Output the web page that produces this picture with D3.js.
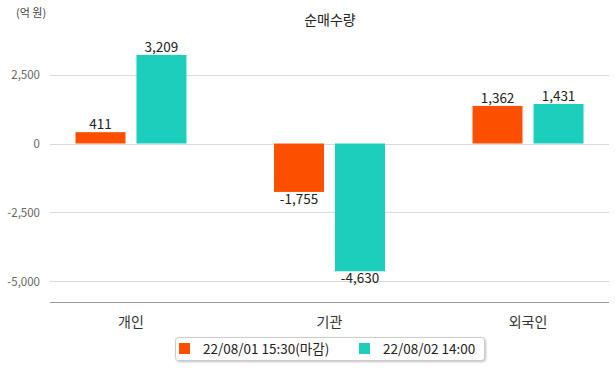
<!DOCTYPE html>
<html>
<head>
<meta charset="utf-8">
<script src="https://cdn.jsdelivr.net/npm/d3@7"></script>
<style>
  body { margin: 0; background: #fff; }
  text { font-family: "Noto Sans CJK KR", "Noto Sans", sans-serif; }
</style>
</head>
<body>
<svg id="chart" width="615" height="368"></svg>
<script>
var categories = ['개인', '기관', '외국인'];
var seriesNames = ['22/08/01 15:30(마감)', '22/08/02 14:00'];
var seriesColors = ['#fc5000', '#1dcebd'];
var closeValues = [411, -1755, 1362];
var midValues = [3209, -4630, 1431];
var yTicks = [-5000, -2500, 0, 2500];

var fmt = function(v) { return d3.format(',')(v).replace('\u2212', '-'); };

var svg = d3.select('#chart');
var left = 50, right = 609;

var x = d3.scalePoint().domain(categories).range([left, right]).padding(0.408);
// zero at 143.5, 2500 per 69px
var y = d3.scaleLinear().domain([-5743, 4620]).range([302, 16]);

// gridlines
svg.append('g').selectAll('line').data(yTicks).enter().append('line')
  .attr('x1', left).attr('x2', right)
  .attr('y1', function(d) { return Math.round(y(d)) + 0.5; })
  .attr('y2', function(d) { return Math.round(y(d)) + 0.5; })
  .attr('stroke', '#d9d9d9');

// y tick labels
svg.append('g').selectAll('text').data(yTicks).enter().append('text')
  .attr('x', 40).attr('y', function(d) { return y(d); })
  .attr('dy', '.35em')
  .attr('text-anchor', 'end')
  .attr('font-size', 11.5)
  .attr('fill', '#666')
  .text(fmt);

// bottom axis
svg.append('line')
  .attr('x1', left).attr('x2', right)
  .attr('y1', 302.5).attr('y2', 302.5)
  .attr('stroke', '#999');

svg.append('g').selectAll('text').data(categories).enter().append('text')
  .attr('x', function(d) { return x(d); })
  .attr('y', 327)
  .attr('text-anchor', 'middle')
  .attr('font-size', 14)
  .attr('fill', '#333')
  .text(function(d) { return d; });

var barW = 50, gap = 11;
var series = [closeValues, midValues];

series.forEach(function(vals, s) {
  var g = svg.append('g');
  var rows = categories.map(function(c, i) { return { cat: c, v: vals[i] }; });
  var off = s === 0 ? -(gap / 2 + barW) : gap / 2;
  g.selectAll('rect').data(rows).enter().append('rect')
    .attr('x', function(d) { return x(d.cat) + off; })
    .attr('y', function(d) { return Math.min(y(d.v), y(0)); })
    .attr('width', barW)
    .attr('height', function(d) { return Math.abs(y(d.v) - y(0)); })
    .attr('fill', seriesColors[s]);
  g.selectAll('text').data(rows).enter().append('text')
    .attr('x', function(d) { return x(d.cat) + off + barW / 2; })
    .attr('y', function(d) { return d.v >= 0 ? y(d.v) - 3 : y(d.v) + 12; })
    .attr('text-anchor', 'middle')
    .attr('font-size', 13.5)
    .attr('fill', '#222')
    .text(function(d) { return fmt(d.v); });
});

// title & unit
svg.append('text').attr('x', 330).attr('y', 25)
  .attr('text-anchor', 'middle').attr('font-size', 14).attr('fill', '#222')
  .text('순매수량');
svg.append('text').attr('x', 16).attr('y', 17)
  .attr('font-size', 11).attr('fill', '#444')
  .text('(억 원)');

// legend
var lg = svg.append('g');
lg.append('rect').attr('x', 175.5).attr('y', 337.5).attr('width', 309).attr('height', 23)
  .attr('rx', 3).attr('fill', '#fff').attr('stroke', '#ccc')
  .style('filter', 'drop-shadow(1px 1px 1px rgba(0,0,0,0.25))');
var legendX = [179, 359];
seriesNames.forEach(function(n, i) {
  lg.append('rect').attr('x', legendX[i]).attr('y', 343).attr('width', 11).attr('height', 11)
    .attr('fill', seriesColors[i]);
  lg.append('text').attr('x', legendX[i] + 24).attr('y', 349).attr('dy', '.35em')
    .attr('font-size', 13.5).attr('fill', '#222').text(n);
});
</script>
</body>
</html>
